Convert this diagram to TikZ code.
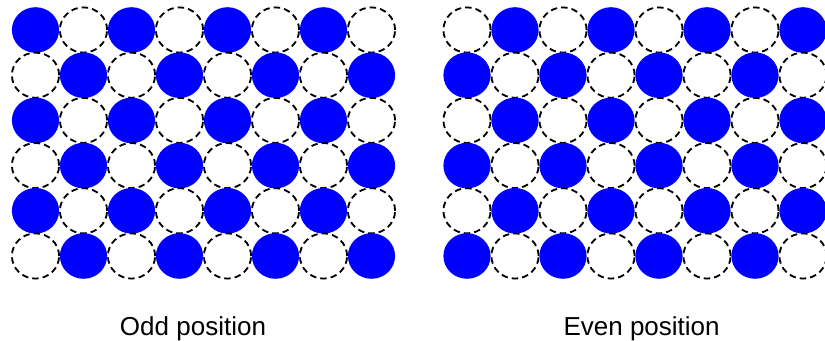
\documentclass[tikz,border=0pt]{standalone}
\usepackage{fontspec}
\setmainfont{Liberation Sans}
\tikzset{
  full/.style={fill=blue},
  empty/.style={draw=black, line width=1.3pt, dash pattern=on 4.6pt off 2.9pt},
  caption/.style={anchor=base, font=\fontsize{18.5}{22}\selectfont}
}
\begin{document}
\begin{tikzpicture}
	\useasboundingbox (0,0) rectangle (20.625,8.525);
	% odd position: filled where column+row is even
	\begin{scope}[shift={(0.8875,7.775)}]
		\foreach \i in {0,...,7}
			\foreach \j in {0,...,5} {
				\pgfmathtruncatemacro{\parity}{mod(\i+\j,2)}
				\ifnum\parity=0
					\fill[full] (1.2*\i,-1.13*\j) ellipse (0.59 and 0.57);
				\else
					\draw[empty] (1.2*\i,-1.13*\j) ellipse (0.59 and 0.565);
				\fi
			}
	\end{scope}
	% even position: filled where column+row is odd
	\begin{scope}[shift={(11.675,7.775)}]
		\foreach \i in {0,...,7}
			\foreach \j in {0,...,5} {
				\pgfmathtruncatemacro{\parity}{mod(\i+\j,2)}
				\ifnum\parity=1
					\fill[full] (1.2*\i,-1.13*\j) ellipse (0.59 and 0.57);
				\else
					\draw[empty] (1.2*\i,-1.13*\j) ellipse (0.59 and 0.565);
				\fi
			}
	\end{scope}
	\node[caption] (odd) at (4.825, 0.1375) {Odd position};
	\node[caption] (even) at (16.04, 0.1375) {Even position};
\end{tikzpicture}
\end{document}
